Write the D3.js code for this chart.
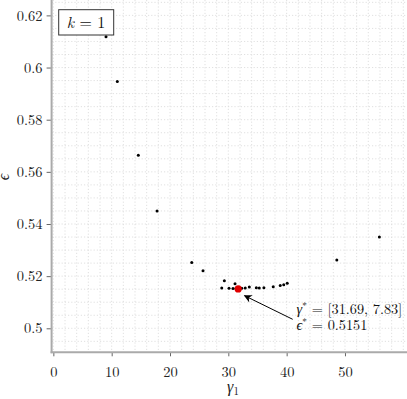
<!DOCTYPE html>
<html><head><meta charset="utf-8">
<script src="https://cdn.jsdelivr.net/npm/d3@7"></script>
<style>body{margin:0;background:#fff}svg{display:block}</style>
</head><body>
<svg id="c" width="407" height="399"></svg>
<script>
const gammaVals = [9.03, 10.97, 14.57, 17.78, 23.73, 25.66, 29.32, 31.15, 28.87, 30.12, 30.8, 31.3, 32.3, 32.9, 33.6, 34.8, 35.3, 36.1, 37.7, 38.9, 39.5, 40.1, 48.6, 55.9];
const epsVals   = [0.6118, 0.5946, 0.5664, 0.5450, 0.5252, 0.5221, 0.5182, 0.5171, 0.5155, 0.5154, 0.5153, 0.5153, 0.5154, 0.5155, 0.5158, 0.5156, 0.5155, 0.5156, 0.5159, 0.5164, 0.5167, 0.5173, 0.5262, 0.5350];
const bestGamma = 31.69, bestEps = 0.5151;
const xTicks = [0, 10, 20, 30, 40, 50];
const yTicks = [0.5, 0.52, 0.54, 0.56, 0.58, 0.6, 0.62];
const annotGamma = "[31.69, 7.83]", annotEps = "0.5151";

const svg = d3.select("#c");
const x = d3.scaleLinear().domain([-0.3, 60.6]).range([51.6, 406.8]);
const y = d3.scaleLinear().domain([0.4908, 0.6259]).range([352.3, 0]);
const font = "'Latin Modern Roman', 'Liberation Serif', serif";

// grid
const gx = d3.range(0, 61, 2), gy = d3.range(0.495, 0.626, 0.005);
svg.append("g").selectAll("line").data(gx).join("line")
  .attr("x1", d => x(d)).attr("x2", d => x(d)).attr("y1", 0).attr("y2", 352)
  .attr("stroke", "#d8d8d8").attr("stroke-width", 0.8).attr("stroke-dasharray", "1.2,2");
svg.append("g").selectAll("line").data(gy).join("line")
  .attr("y1", d => y(d)).attr("y2", d => y(d)).attr("x1", 52).attr("x2", 407)
  .attr("stroke", "#d8d8d8").attr("stroke-width", 0.8).attr("stroke-dasharray", "1.2,2");

// axes
const xa = svg.append("g").attr("transform", "translate(0,352.3)")
  .call(d3.axisBottom(x).tickValues(xTicks).tickSize(4).tickPadding(10).tickFormat(d3.format("d")));
const ya = svg.append("g").attr("transform", "translate(51.6,0)")
  .call(d3.axisLeft(y).tickValues(yTicks).tickSize(5).tickPadding(4).tickFormat(d => String(+d.toFixed(2))));
[xa, ya].forEach(a => {
  a.attr("font-family", font).attr("font-size", 14.5);
  a.select(".domain").remove();
  a.selectAll(".tick line").attr("stroke", "#666").attr("stroke-width", 1);
  a.selectAll(".tick text").attr("fill", "#222");
});
svg.append("line").attr("x1", 51.6).attr("x2", 51.6).attr("y1", 0).attr("y2", 353.3)
  .attr("stroke", "#aaa").attr("stroke-width", 2);
svg.append("line").attr("x1", 50.6).attr("x2", 407).attr("y1", 352.3).attr("y2", 352.3)
  .attr("stroke", "#aaa").attr("stroke-width", 2);

// labels
const xl = svg.append("text").attr("x", 233).attr("y", 392).attr("text-anchor", "middle")
  .attr("font-family", font).attr("font-size", 16).attr("fill", "#222");
xl.append("tspan").attr("font-style", "italic").text("γ");
xl.append("tspan").attr("font-size", 11).attr("dy", 3).text("1");
svg.append("text").attr("transform", "translate(9,177) rotate(-90)").attr("text-anchor", "middle")
  .attr("font-family", font).attr("font-size", 16).attr("font-style", "italic").attr("fill", "#222").text("ϵ");

// points
svg.append("g").selectAll("circle").data(gammaVals.map((g, i) => [g, epsVals[i]])).join("circle")
  .attr("cx", d => x(d[0])).attr("cy", d => y(d[1])).attr("r", 1.5).attr("fill", "#000");
svg.append("circle").attr("cx", x(bestGamma)).attr("cy", y(bestEps)).attr("r", 3.6).attr("fill", "#e00000");

// annotation arrow
svg.append("defs").append("marker").attr("id", "ah").attr("viewBox", "0 0 10 10")
  .attr("refX", 9).attr("refY", 5).attr("markerWidth", 10).attr("markerHeight", 8).attr("orient", "auto")
  .attr("markerUnits", "userSpaceOnUse")
  .append("path").attr("d", "M0,0 L10,5 L0,10 L3,5 Z").attr("fill", "#000");
svg.append("line").attr("x1", 292.7).attr("y1", 319.3).attr("x2", 244.5).attr("y2", 295.7)
  .attr("stroke", "#000").attr("stroke-width", 1).attr("marker-end", "url(#ah)");
const a1 = svg.append("text").attr("x", 296.5).attr("y", 314).attr("font-family", font).attr("font-size", 14.3).attr("fill", "#111");
a1.append("tspan").attr("font-style", "italic").text("γ");
a1.append("tspan").attr("font-size", 9.5).attr("dy", -5).text("*");
a1.append("tspan").attr("dy", 5).text(" = " + annotGamma);
const a2 = svg.append("text").attr("x", 296.5).attr("y", 330).attr("font-family", font).attr("font-size", 14.3).attr("fill", "#111");
a2.append("tspan").attr("font-style", "italic").text("ϵ");
a2.append("tspan").attr("font-size", 9.5).attr("dy", -5).text("*");
a2.append("tspan").attr("dy", 5).text(" = " + annotEps);

// legend
svg.append("rect").attr("x", 58.7).attr("y", 9.7).attr("width", 55).attr("height", 25.3)
  .attr("fill", "#fff").attr("stroke", "#333").attr("stroke-width", 1);
const lt = svg.append("text").attr("x", 86).attr("y", 27.5).attr("text-anchor", "middle")
  .attr("font-family", font).attr("font-size", 16).attr("fill", "#111");
lt.append("tspan").attr("font-style", "italic").text("k");
lt.append("tspan").text(" = 1");
</script>
</body></html>
